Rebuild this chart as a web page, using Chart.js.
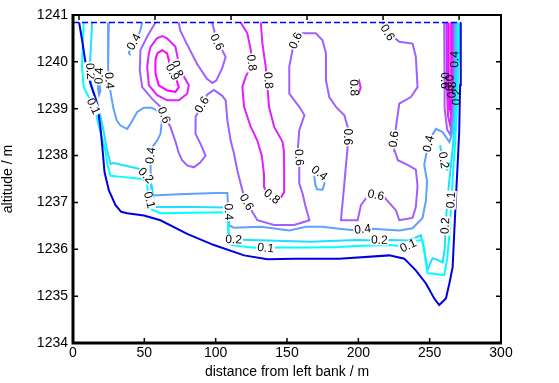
<!DOCTYPE html>
<html>
<head>
<meta charset="utf-8">
<script src="https://cdn.jsdelivr.net/npm/chart.js@4.4.1/dist/chart.umd.min.js"></script>
<style>
  html, body { margin: 0; padding: 0; background: #fff; }
  #wrap { width: 559px; height: 383px; }
</style>
</head>
<body>
<div id="wrap"><canvas id="myChart" width="559" height="383"></canvas></div>
<script>
// velocity isolines (m/s) in the river cross section
var xTicks = [0, 50, 100, 150, 200, 250, 300]
var yTicks = [1234, 1235, 1236, 1237, 1238, 1239, 1240, 1241]
// the top frame carries the ticks of the survey grid, which is slightly wider
var topTicks = [0, 50, 100, 150, 200, 250]
var topRange = [-3.95, 277.6]

var levels = [0.1, 0.2, 0.4, 0.6, 0.8, 0.9]
var levelColors = ['#00ffff', '#20dfff', '#60a0ff', '#a060ff', '#df20ff', '#ff00ff']

var waterLevel = 1240.84
var surfaceX = [0, 271.8]

var bed = [[4.3,1240.84],[6.7,1240.4],[8.7,1240.0],[12.2,1239.54],[16.9,1239.11],[19.2,1238.61],[20.8,1238.1],[22.1,1237.65],[25.1,1237.26],[29.8,1236.94],[33.8,1236.8],[38.0,1236.77],[49.7,1236.72],[61.3,1236.62],[80.0,1236.33],[98.8,1236.09],[119.9,1235.87],[136.3,1235.79],[155.0,1235.8],[186.6,1235.8],[221.7,1235.87],[232.2,1235.8],[240.3,1235.55],[247.4,1235.27],[253.2,1234.95],[256.7,1234.81],[261.4,1234.95],[263.8,1235.27],[266.1,1235.62],[267.2,1236.33],[268.3,1237.04],[269.5,1237.75],[270.7,1238.5],[271.3,1239.5],[271.8,1240.84]]

// 0.1
var c01 = [[7.5,1240.84],[6.8,1240.3],[6.3,1239.89],[7.5,1239.46],[12.2,1239.18],[15.7,1238.95],[18.4,1238.6],[21.0,1238.3],[22.7,1238.1],[24.2,1237.8],[26.3,1237.57],[36.0,1237.54],[48.5,1237.5],[51.9,1237.42],[53.0,1237.1],[55.1,1236.85],[61.3,1236.77],[83.9,1236.78],[108.2,1236.79],[109.3,1236.12],[111.7,1236.09],[122.2,1236.05],[135.1,1236.01],[143.3,1236.04],[166.6,1236.04],[186.6,1236.05],[198.4,1236.07],[221.7,1236.09],[231.9,1236.06],[240.4,1236.18],[245.0,1236.2],[248.5,1235.49],[260.2,1235.45],[262.3,1235.8],[263.8,1236.3],[265.1,1237.0],[266.3,1237.6],[267.9,1238.3],[269.4,1239.2],[270.1,1240.0],[270.5,1240.84]]

// 0.2
var c02 = [[13.4,1240.84],[11.8,1239.89],[12.6,1239.54],[15.7,1239.25],[18.4,1238.95],[21.0,1238.6],[23.9,1238.11],[26.3,1237.82],[28.6,1237.84],[41.5,1237.75],[46.2,1237.72],[50.9,1237.57],[54.4,1237.43],[55.5,1237.33],[56.7,1236.9],[83.9,1236.9],[108.2,1236.89],[109.3,1236.26],[111.7,1236.21],[142.5,1236.18],[166.6,1236.16],[198.4,1236.2],[214.7,1236.19],[221.7,1236.2],[235.6,1236.19],[243.8,1236.3],[246.2,1235.99],[248.5,1235.56],[252.0,1235.81],[255.3,1235.78],[259.1,1235.72],[260.5,1236.0],[261.2,1236.5],[262.3,1237.0],[263.9,1237.5],[266.3,1238.2],[268.0,1239.0],[268.8,1239.8],[269.1,1240.84]]
var c02b = [[257.3,1238.22],[259.8,1237.75],[262.3,1237.7],[264.4,1237.85]]

// 0.4
var c04 = [[25.1,1240.84],[24.6,1239.89],[25.7,1239.46],[28.1,1239.04],[30.6,1238.75],[33.3,1238.64],[38.0,1238.57],[40.3,1238.68],[45.0,1238.93],[49.7,1239.02],[55.1,1239.02],[59.0,1238.96],[62.5,1238.79],[61.3,1238.46],[59.0,1238.32],[55.5,1238.18],[54.4,1237.89],[54.4,1237.46],[55.5,1237.15],[78.6,1237.18],[101.1,1237.2],[108.2,1237.2],[109.3,1236.51],[112.8,1236.46],[131.8,1236.48],[151.6,1236.4],[163.3,1236.48],[174.9,1236.48],[186.6,1236.44],[198.4,1236.4],[210.0,1236.44],[228.7,1236.4],[238.0,1236.45],[245.0,1236.67],[247.4,1237.04],[248.2,1237.45],[246.2,1237.8],[247.4,1238.0],[249.7,1238.3],[252.0,1238.45],[254.4,1238.57],[259.1,1238.5],[263.8,1238.29],[265.5,1238.45],[266.8,1238.9],[267.5,1239.5],[267.7,1240.84]]
var c04b = [[48.5,1240.84],[47.3,1240.68],[45.0,1240.5],[41.3,1240.3],[39.1,1240.2],[40.2,1240.14]]
var c04c = [[17.7,1239.6],[17.5,1239.42],[18.3,1239.3],[19.2,1239.38],[19.0,1239.58],[17.7,1239.6]]
var c04d = [[169.1,1237.58],[169.7,1237.4],[171.0,1237.28],[174.9,1237.27],[176.3,1237.4],[175.3,1237.55],[172.3,1237.62],[169.1,1237.58]]

// 0.6
var c06a = [[57.8,1240.84],[52.0,1240.54],[47.3,1240.25],[46.8,1239.82],[48.5,1239.46],[55.5,1239.21],[61.3,1239.04],[63.6,1238.86],[68.3,1238.61],[71.8,1238.3],[74.2,1238.05],[76.5,1237.9],[80.0,1237.79],[84.7,1237.75],[89.2,1237.85],[92.9,1238.0],[89.4,1238.25],[85.9,1238.46],[85.9,1238.82],[88.2,1238.96],[90.6,1239.08],[94.0,1239.3],[98.7,1239.4],[104.5,1239.28],[107.0,1239.18],[108.2,1238.75],[110.5,1238.32],[112.8,1238.05],[115.2,1237.68],[118.7,1237.26],[121.2,1237.04],[125.7,1236.8],[129.2,1236.62],[141.0,1236.52],[155.0,1236.52],[165.7,1236.62],[162.7,1236.95],[161.0,1237.18],[158.6,1237.4],[158.6,1237.75],[157.5,1238.11],[158.6,1238.54],[162.2,1238.86],[158.6,1239.04],[151.6,1239.32],[151.6,1239.9],[154.2,1240.3],[156.3,1240.45],[161.0,1240.61],[170.2,1240.61],[174.9,1240.46],[177.3,1240.18],[177.3,1239.61],[179.6,1239.25],[184.3,1239.04],[190.2,1238.86],[192.5,1238.61],[192.5,1238.18],[191.2,1237.75],[190.2,1237.4],[187.8,1236.62],[199.5,1236.62],[201.8,1236.94],[207.6,1237.18],[212.3,1237.15],[218.2,1237.11],[226.4,1236.83],[228.7,1236.62],[234.5,1236.65],[238.0,1236.67],[240.3,1236.9],[241.5,1237.35],[240.3,1237.7],[234.5,1237.8],[227.7,1237.9],[225.5,1238.1],[225.2,1238.3],[226.4,1238.61],[228.7,1239.11],[236.8,1239.25],[241.5,1239.46],[240.3,1240.11],[238.0,1240.39],[228.7,1240.43],[221.7,1240.61],[217.0,1240.84]]
var c06b = [[74.2,1240.84],[75.0,1240.68],[79.7,1240.39],[86.9,1239.96],[93.9,1239.64],[97.7,1239.55],[100.4,1239.6],[104.5,1239.86],[107.0,1240.1],[103.4,1240.32],[100.4,1240.5],[98.7,1240.7],[97.5,1240.84]]
var c06c = [[260.2,1240.84],[260.3,1239.8],[260.7,1239.0],[262.3,1238.55],[264.4,1238.45],[266.0,1238.75],[266.6,1239.4],[266.8,1240.84]]

// 0.8
var c08a = [[54.4,1240.32],[58.8,1240.5],[62.6,1240.55],[66.0,1240.5],[71.8,1240.32],[74.2,1239.96],[76.5,1239.75],[81.2,1239.5],[80.0,1239.32],[74.2,1239.18],[66.0,1239.18],[59.0,1239.29],[53.2,1239.5],[52.0,1239.89],[53.2,1240.18],[54.4,1240.32]]
var c08b = [[117.5,1240.84],[122.2,1240.61],[124.6,1240.25],[125.7,1239.96],[121.0,1239.68],[118.7,1239.46],[119.9,1239.04],[124.6,1238.61],[129.2,1238.32],[132.3,1238.0],[133.9,1237.6],[133.9,1237.33],[136.1,1237.2],[140.3,1237.1],[144.5,1237.04],[148.0,1237.22],[148.0,1237.7],[147.8,1238.1],[146.8,1238.3],[141.0,1238.61],[137.4,1239.04],[136.3,1239.46],[135.1,1239.89],[132.8,1240.39],[131.6,1240.84]]
var c08c = [[262.0,1240.84],[262.2,1239.4],[262.8,1238.85],[264.3,1238.65],[265.5,1238.9],[265.8,1239.5],[265.9,1240.84]]
var c08d = [[198.9,1239.55],[200.5,1239.6],[201.6,1239.45],[200.5,1239.35],[199.1,1239.4],[198.9,1239.55]]

// 0.9
var c09a = [[59.0,1240.18],[62.5,1240.25],[66.0,1240.18],[68.3,1239.89],[71.8,1239.68],[74.2,1239.46],[71.8,1239.36],[66.0,1239.39],[60.1,1239.5],[57.8,1239.75],[57.8,1240.04],[59.0,1240.18]]
var c09c = [[263.2,1240.84],[263.3,1239.5],[263.9,1239.05],[264.5,1238.95],[265.0,1239.15],[265.1,1239.6],[265.1,1240.84]]

var contourLines = [
  [0.1, c01], [0.2, c02], [0.2, c02b],
  [0.4, c04], [0.4, c04b], [0.4, c04c], [0.4, c04d],
  [0.6, c06a], [0.6, c06b], [0.6, c06c],
  [0.8, c08a], [0.8, c08b], [0.8, c08c], [0.8, c08d],
  [0.9, c09a], [0.9, c09c]
]

// inline labels: text, x, y, line they sit on
var labels = [
  ['0.4', 42.9, 1240.42, c04b], ['0.2', 11.9, 1239.8, c02], ['0.4', 18.5, 1239.7, c04c],
  ['0.1', 14.1, 1239.05, c01], ['0.4', 25.2, 1239.6, c04],
  ['0.8', 72.7, 1239.85, c08a], ['0.9', 69.5, 1239.78, c09a],
  ['0.6', 63.6, 1238.86, c06a], ['0.6', 100.7, 1240.42, c06b], ['0.6', 90.6, 1239.08, c06a],
  ['0.8', 125.0, 1239.98, c08b], ['0.8', 136.7, 1239.6, c08b], ['0.8', 139.3, 1237.12, c08b],
  ['0.6', 121.5, 1237.0, c06a], ['0.4', 54.6, 1238.0, c04], ['0.2', 50.9, 1237.57, c02],
  ['0.1', 53.3, 1237.05, c01], ['0.4', 108.8, 1236.8, c04], ['0.2', 112.6, 1236.2, c02],
  ['0.1', 135.0, 1236.02, c01], ['0.6', 156.3, 1240.45, c06a], ['0.6', 158.2, 1237.96, c06a],
  ['0.6', 192.5, 1238.4, c06a], ['0.8', 196.8, 1239.45, c08d], ['0.4', 172.6, 1237.62, c04d],
  ['0.6', 212.3, 1237.15, c06a], ['0.6', 220.2, 1240.62, c06a], ['0.6', 225.2, 1238.35, c06a],
  ['0.4', 203.0, 1236.42, c04], ['0.2', 214.7, 1236.19, c02], ['0.1', 235.1, 1236.07, c01],
  ['0.4', 249.5, 1238.25, c04], ['0.2', 259.6, 1237.9, c02b], ['0.1', 265.2, 1237.05, c01],
  ['0.2', 261.1, 1236.5, c02]
]
// crowded labels along the right bank, drawn straight over the lines
var bankLabels = [
  ['0.4', 267.7, 1240.05, c04], ['0.6', 260.3, 1239.6, c06c], ['0.9', 263.3, 1239.55, c09c],
  ['0.8', 265.9, 1239.4, c08c], ['0.2', 269.1, 1239.25, c02]
]

var FONT = "'Liberation Sans', Arial, Helvetica, sans-serif"

function toPoints(arr) {
  return arr.map(function (p) { return { x: p[0], y: p[1] } })
}

var datasets = []
datasets.push({
  data: toPoints(bed), borderColor: '#0000e0', borderWidth: 2
})
datasets.push({
  data: toPoints([[surfaceX[0], waterLevel], [surfaceX[1], waterLevel]]),
  borderColor: '#0000ff', borderWidth: 1.5, borderDash: [6, 3]
})
contourLines.forEach(function (c) {
  datasets.push({
    data: toPoints(c[1]),
    borderColor: levelColors[levels.indexOf(c[0])],
    borderWidth: 2
  })
})
datasets.forEach(function (d) {
  d.showLine = true
  d.pointRadius = 0
  d.tension = 0
  d.fill = false
})

// angle of the line segment nearest to a label, kept readable
function labelAngle(chart, line, x, y) {
  var xs = chart.scales.x, ys = chart.scales.y
  var px = xs.getPixelForValue(x), py = ys.getPixelForValue(y)
  var best = 0, bestD = Infinity
  for (var i = 0; i < line.length - 1; i++) {
    var ax = xs.getPixelForValue(line[i][0]), ay = ys.getPixelForValue(line[i][1])
    var bx = xs.getPixelForValue(line[i + 1][0]), by = ys.getPixelForValue(line[i + 1][1])
    var dx = bx - ax, dy = by - ay, len = dx * dx + dy * dy
    var t = len ? ((px - ax) * dx + (py - ay) * dy) / len : 0
    t = Math.max(0, Math.min(1, t))
    var cx = ax + t * dx, cy = ay + t * dy
    var d = (px - cx) * (px - cx) + (py - cy) * (py - cy)
    if (d < bestD) { bestD = d; best = Math.atan2(dy, dx) }
  }
  if (best > Math.PI / 2) best -= Math.PI
  if (best <= -Math.PI / 2) best += Math.PI
  return best
}

function drawLabel(chart, lb, gap) {
  var ctx = chart.ctx
  var px = chart.scales.x.getPixelForValue(lb[1])
  var py = chart.scales.y.getPixelForValue(lb[2])
  var a = labelAngle(chart, lb[3], lb[1], lb[2])
  ctx.save()
  ctx.translate(px, py)
  ctx.rotate(a)
  ctx.font = '12px ' + FONT
  var w = ctx.measureText(lb[0]).width
  if (gap) {
    ctx.fillStyle = '#fff'
    ctx.fillRect(-w / 2 - 1, -5, w + 2, 10)
  }
  ctx.fillStyle = '#000'
  ctx.textAlign = 'center'
  ctx.textBaseline = 'middle'
  ctx.fillText(lb[0], 0, 0)
  ctx.restore()
}

var contourLabels = {
  id: 'contourLabels',
  afterDatasetsDraw: function (chart) {
    var area = chart.chartArea, ctx = chart.ctx
    ctx.save()
    ctx.beginPath()
    ctx.rect(area.left, area.top, area.right - area.left, area.bottom - area.top)
    ctx.clip()
    labels.forEach(function (lb) { drawLabel(chart, lb, true) })
    bankLabels.forEach(function (lb) { drawLabel(chart, lb, false) })
    ctx.restore()
  }
}

// box around the axes with inward ticks
var axesBox = {
  id: 'axesBox',
  afterDraw: function (chart) {
    var ctx = chart.ctx, a = chart.chartArea
    var xs = chart.scales.x, ys = chart.scales.y, xt = chart.scales.xTop
    ctx.save()
    ctx.strokeStyle = '#000'
    ctx.lineWidth = 1.5
    ctx.beginPath()
    xTicks.forEach(function (v) {
      var p = xs.getPixelForValue(v)
      ctx.moveTo(p, a.bottom); ctx.lineTo(p, a.bottom - 5)
    })
    topTicks.forEach(function (v) {
      var p = xt.getPixelForValue(v)
      ctx.moveTo(p, a.top); ctx.lineTo(p, a.top + 5)
    })
    yTicks.forEach(function (v) {
      var p = ys.getPixelForValue(v)
      ctx.moveTo(a.left, p); ctx.lineTo(a.left + 5, p)
      ctx.moveTo(a.right, p); ctx.lineTo(a.right - 5, p)
    })
    ctx.stroke()
    ctx.lineWidth = 2
    ctx.strokeRect(a.left, a.top, a.right - a.left, a.bottom - a.top)
    ctx.lineWidth = 3
    ctx.beginPath()
    ctx.moveTo(a.left, a.top - 1); ctx.lineTo(a.left, a.bottom)
    ctx.lineTo(a.right + 1, a.bottom)
    ctx.stroke()
    ctx.restore()
  }
}

function chart() {
  const ctx = document.getElementById('myChart')
  const myChart = new Chart(ctx, {
    type: 'scatter',
    data: { datasets: datasets },
    options: {
      responsive: false,
      animation: false,
      devicePixelRatio: 1,
      layout: { padding: { top: 15, right: 58, left: 0, bottom: 0 } },
      plugins: { legend: { display: false }, tooltip: { enabled: false } },
      scales: {
        x: {
          type: 'linear', min: 0, max: 300,
          afterBuildTicks: function (s) { s.ticks = xTicks.map(function (v) { return { value: v } }) },
          afterFit: function (s) { s.height = 40 },
          ticks: { color: '#000', font: { family: FONT, size: 14 }, padding: 2, maxRotation: 0 },
          grid: { display: false, drawTicks: false },
          border: { display: false },
          title: { display: true, text: 'distance from left bank / m', color: '#000',
                   font: { family: FONT, size: 14 }, padding: { top: 0, bottom: 2 } }
        },
        xTop: {
          type: 'linear', position: 'top', min: topRange[0], max: topRange[1],
          afterFit: function (s) { s.height = 0 },
          ticks: { display: false },
          grid: { display: false, drawTicks: false },
          border: { display: false }
        },
        y: {
          type: 'linear', min: 1234, max: 1241,
          afterBuildTicks: function (s) { s.ticks = yTicks.map(function (v) { return { value: v } }) },
          afterFit: function (s) { s.width = 73 },
          ticks: { color: '#000', font: { family: FONT, size: 14 }, padding: 5,
                   callback: function (v) { return String(v) } },
          grid: { display: false, drawTicks: false },
          border: { display: false },
          title: { display: true, text: 'altitude / m', color: '#000',
                   font: { family: FONT, size: 14 }, padding: { top: 0, bottom: 4 } }
        }
      }
    },
    plugins: [contourLabels, axesBox]
  })
}

chart()
</script>
</body>
</html>
